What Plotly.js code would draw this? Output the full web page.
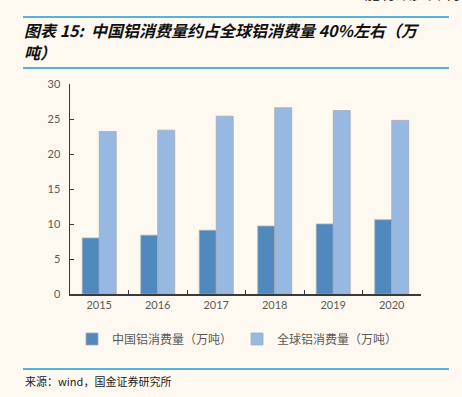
<!DOCTYPE html>
<html>
<head>
<meta charset="utf-8">
<script src="https://cdn.plot.ly/plotly-3.0.1.min.js"></script>
<style>html,body{margin:0;padding:0;background:#FEF9F0;}</style>
</head>
<body>
<div id="chart" style="width:462px;height:397px;"></div>
<script>
const years = ['2015', '2016', '2017', '2018', '2019', '2020'];
const chinaValues = [8.0, 8.4, 9.1, 9.7, 10.0, 10.6];
const globalValues = [23.2, 23.4, 25.4, 26.6, 26.2, 24.8];
const chinaName = '中国铝消费量（万吨）';
const globalName = '全球铝消费量（万吨）';
const titleLine1 = '图表 15:  中国铝消费量约占全球铝消费量 40%左右（万';
const titleLine2 = '吨）';
const sourceText = '来源：wind，国金证券研究所';
const headerText = '能有效提升利';

const W = 462, H = 397;
const M = {l: 70, r: 41, t: 84, b: 103};
const PW = W - M.l - M.r, PH = H - M.t - M.b;
const px = x => (x - M.l) / PW;
const py = y => (H - M.b - y) / PH;

const cjk = '"Noto Sans CJK SC", sans-serif';
const latin = 'Lato, "Noto Sans CJK SC", sans-serif';

const traces = [
  {type: 'bar', x: years, y: chinaValues, name: chinaName,
   marker: {color: '#4F89BD', line: {width: 0.8, color: '#A3AAB3'}}},
  {type: 'bar', x: years, y: globalValues, name: globalName,
   marker: {color: '#97B8E0', line: {width: 0.8, color: '#A3AAB3'}}}
];

const blue = '#1B9BD7';
const titleFont = {family: cjk, size: 16, color: '#111111'};
const layout = {
  width: W, height: H,
  margin: M,
  paper_bgcolor: '#FEF9F0', plot_bgcolor: '#FEF9F0',
  barmode: 'group', bargap: 0.42, bargroupgap: 0,
  showlegend: true,
  legend: {orientation: 'h', x: px(72), xanchor: 'left', y: py(339), yanchor: 'middle',
           font: {family: cjk, size: 12, color: '#595959'}, bgcolor: 'rgba(0,0,0,0)',
           itemwidth: 30, traceorder: 'normal'},
  xaxis: {type: 'category', showline: true, linecolor: '#3A3A3A', linewidth: 1.5,
          ticks: 'inside', ticklen: 4, tickcolor: '#3A3A3A', tickson: 'boundaries',
          tickfont: {family: latin, size: 11, color: '#595959'}, showgrid: false, fixedrange: true},
  yaxis: {range: [0, 30], dtick: 5, showline: true, linecolor: '#3A3A3A', linewidth: 1.5,
          ticks: 'inside', ticklen: 4, tickcolor: '#3A3A3A', showgrid: false, zeroline: false,
          tickfont: {family: latin, size: 11, color: '#595959'}, ticklabelstandoff: 6},
  shapes: [
    {type: 'line', xref: 'paper', yref: 'paper', x0: px(23), x1: px(449), y0: py(17), y1: py(17), line: {color: blue, width: 1.5}},
    {type: 'line', xref: 'paper', yref: 'paper', x0: px(23), x1: px(449), y0: py(68), y1: py(68), line: {color: blue, width: 1.5}},
    {type: 'line', xref: 'paper', yref: 'paper', x0: px(23), x1: px(449), y0: py(369), y1: py(369), line: {color: blue, width: 1.5}}
  ],
  annotations: [
    {xref: 'paper', yref: 'paper', x: px(22), y: py(30), xanchor: 'left', yanchor: 'middle', align: 'left',
     showarrow: false, text: '<b><i>' + titleLine1 + '</i></b>', font: titleFont},
    {xref: 'paper', yref: 'paper', x: px(22), y: py(52), xanchor: 'left', yanchor: 'middle', align: 'left',
     showarrow: false, text: '<b><i>' + titleLine2 + '</i></b>', font: titleFont},
    {xref: 'paper', yref: 'paper', x: px(23), y: py(381), xanchor: 'left', yanchor: 'middle', align: 'left',
     showarrow: false, text: sourceText, font: {family: cjk, size: 11, color: '#222222'}},
    {xref: 'paper', yref: 'paper', x: px(362), y: py(6), xanchor: 'left', yanchor: 'bottom', align: 'left',
     showarrow: false, text: headerText, font: {family: cjk, size: 16, color: '#333333'}}
  ]
};

Plotly.newPlot('chart', traces, layout, {displayModeBar: false, staticPlot: true});
</script>
</body>
</html>
